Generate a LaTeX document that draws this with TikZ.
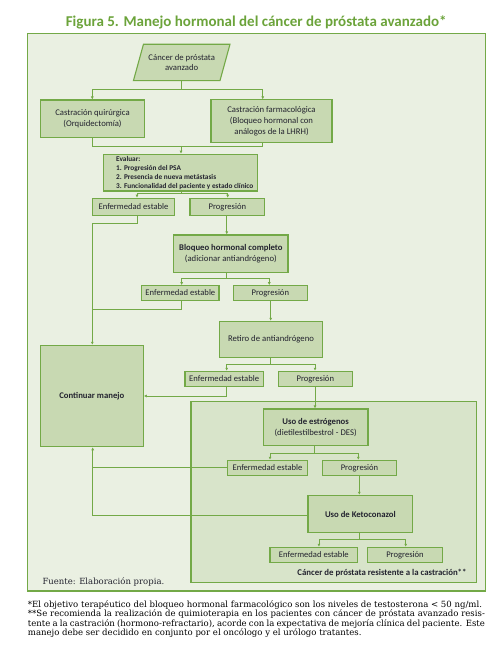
\documentclass[tikz,border=0pt]{standalone}
\usepackage{fontspec}
\setmainfont{Carlito}
\newfontfamily\footfont{DejaVu Serif}
\usetikzlibrary{arrows.meta,shapes.geometric}
\definecolor{outerfill}{HTML}{EAF0E2}
\definecolor{grborder}{HTML}{73A947}
\definecolor{boxfill}{HTML}{C8D9B2}
\definecolor{crpcfill}{HTML}{D8E4CA}
\definecolor{titlegreen}{HTML}{6BA33A}
\definecolor{txt}{HTML}{23232F}
\tikzset{
  fbox/.style={draw=grborder, fill=boxfill, line width=1.1pt, inner sep=0pt, align=center,
    text=txt, font=\fontsize{8.7}{11}\selectfont},
  sbox/.style={fbox, font=\fontsize{8.6}{9}\selectfont},
  conn/.style={draw=grborder, line width=0.9pt},
  arr/.style={conn, -{Latex[length=3pt,width=3pt]}},
}
\begin{document}
\begin{tikzpicture}[x=1pt,y=-1pt]
\useasboundingbox (0,0) rectangle (502,660);
% title
\node[text=titlegreen, font=\fontsize{15}{17}\selectfont\bfseries] (title) at (256.2,22) {Figura 5. Manejo hormonal del cáncer de próstata avanzado*};
% outer frame
\draw[draw=grborder, fill=outerfill, line width=1.2pt] (27.7,33.3) rectangle (485.7,591);
% CRPC frame
\draw[draw=grborder, fill=crpcfill, line width=1.2pt] (191,401.7) rectangle (476.7,582.7);
\node[anchor=east, text=txt, font=\fontsize{8.8}{9}\selectfont\bfseries] (crpclab) at (470,572.7) {Cáncer de próstata resistente a la castración**};
% parallelogram
\node[fbox, trapezium, trapezium left angle=61.6, trapezium right angle=118.4, trapezium stretches=true,
  minimum width=96.7, minimum height=36.4, font=\fontsize{8.7}{10}\selectfont] (par) at (181.7,62.5) {Cáncer de próstata\\avanzado};
% boxes
\node[fbox, minimum width=104.4, minimum height=37.3] (q) at (92.5,118.7) {Castración quirúrgica\\(Orquidectomía)};
\node[fbox, minimum width=121, minimum height=42.7] (f) at (271.5,121.3) {Castración farmacológica\\(Bloqueo hormonal con\\análogos de la LHRH)};
\node[fbox, minimum width=154.4, minimum height=36.7] (e) at (180.5,172.65) {};
\node[anchor=west, inner sep=0pt, align=left, text=txt, font=\fontsize{7.3}{9}\selectfont\bfseries] (etext) at (116,172.9) {Evaluar:\\1. Progresión del PSA\\2. Presencia de nueva metástasis\\3. Funcionalidad del paciente y estado clínico};
\node[sbox, minimum width=81.6, minimum height=17] (s1) at (133.5,206.8) {Enfermedad estable};
\node[sbox, minimum width=74.7, minimum height=17] (p1) at (227.35,206.8) {Progresión};
\node[fbox, minimum width=114.3, minimum height=37.3] (b) at (230.85,253.65) {\textbf{Bloqueo hormonal completo}\\(adicionar antiandrógeno)};
\node[sbox, minimum width=77.3, minimum height=14.6] (s2) at (180.35,293) {Enfermedad estable};
\node[sbox, minimum width=74, minimum height=14.6] (p2) at (270.3,293) {Progresión};
\node[fbox, minimum width=103.4, minimum height=36.4] (r) at (271,339.5) {Retiro de antiandrógeno};
\node[sbox, minimum width=78.3, minimum height=15] (s3) at (224.15,378.8) {Enfermedad estable};
\node[sbox, minimum width=74, minimum height=15] (p3) at (315.3,378.8) {Progresión};
\node[fbox, minimum width=103, minimum height=101.4] (c) at (91.8,396) {\textbf{Continuar manejo}};
\node[fbox, minimum width=104.7, minimum height=36.7] (es) at (315.65,427.35) {\textbf{Uso de estrógenos}\\(dietilestilbestrol - DES)};
\node[sbox, minimum width=80.4, minimum height=15] (s4) at (267.5,467.8) {Enfermedad estable};
\node[sbox, minimum width=74.4, minimum height=15] (p4) at (359.5,467.8) {Progresión};
\node[fbox, minimum width=104.7, minimum height=37.4] (k) at (360.35,514) {\textbf{Uso de Ketoconazol}};
\node[sbox, minimum width=87.7, minimum height=15] (s5) at (313.85,554.8) {Enfermedad estable};
\node[sbox, minimum width=74.6, minimum height=15] (p5) at (405,554.8) {Progresión};
% junction coordinates
\coordinate (j1) at (181,89.3);
\coordinate (j2) at (181,146);
\coordinate (j3) at (181,193.3);
\coordinate (v1) at (92.3,223.3);
\coordinate (j4) at (226.7,278.7);
\coordinate (v2) at (92.3,309.3);
\coordinate (j5) at (270.7,364);
\coordinate (j6) at (314.3,453.3);
\coordinate (v3) at (92.7,515.7);
\coordinate (j7) at (359.3,539.7);
% connectors
\draw[conn] (j1 |- par.south) -- (j1);
\draw[arr] (j1) -| ([xshift=-0.2pt]q.north);
\draw[arr] (j1) -| ([xshift=-8.8pt]f.north);
\draw[conn] ([xshift=-0.2pt]q.south) |- (j2);
\draw[conn] ([xshift=-8.8pt]f.south) |- (j2);
\draw[arr] (j2) -- (j2 |- e.north);
\draw[conn] (j3 |- e.south) -- (j3);
\draw[arr] (j3) -| ([xshift=3.5pt]s1.north);
\draw[arr] (j3) -| ([xshift=0.3pt]p1.north);
\draw[conn] ([xshift=3.8pt]s1.south) |- (v1);
\draw[arr] (v1) -- (v1 |- c.north);
\draw[arr] ([xshift=-0.6pt]p1.south) -- ([xshift=-0.6pt]p1.south |- b.north);
\draw[conn] (j4 |- b.south) -- (j4);
\draw[arr] (j4) -| ([xshift=1.3pt]s2.north);
\draw[arr] (j4) -| ([xshift=-1pt]p2.north);
\draw[conn] ([xshift=1.3pt]s2.south) |- (v2);
\draw[arr] ([xshift=0.4pt]p2.south) -- ([xshift=0.4pt]p2.south |- r.north);
\draw[conn] (j5 |- r.south) -- (j5);
\draw[arr] (j5) -| ([xshift=2.5pt]s3.north);
\draw[arr] (j5) -| ([xshift=-0.3pt]p3.north);
\draw[arr] ([xshift=2.5pt]s3.south) |- (c.east);
\draw[arr] ([xshift=-0.3pt]p3.south) -- ([xshift=-0.3pt]p3.south |- es.north);
\draw[conn] (j6 |- es.south) -- (j6);
\draw[arr] (j6) -| ([xshift=2.5pt]s4.north);
\draw[arr] (j6) -| ([xshift=-1.2pt]p4.north);
\draw[arr] (s4.west) -| ([xshift=0.9pt]c.south);
\draw[arr] ([xshift=-0.2pt]p4.south) -- ([xshift=-0.2pt]p4.south |- k.north);
\draw[conn] (k.west |- v3) -- (v3) -- (v3 |- s4.west);
\draw[conn] (j7 |- k.south) -- (j7);
\draw[arr] (j7) -| ([xshift=5.1pt]s5.north);
\draw[arr] (j7) -| ([xshift=0.7pt]p5.north);
% source
\node[anchor=base west, inner sep=0pt, text=txt, font=\footfont\fontsize{8.5}{10}\selectfont] (src) at (42.3,584) {Fuente: Elaboración propia.};
% footnotes
\begin{scope}[every node/.style={anchor=base west, inner sep=0pt, text=black, font=\footfont\fontsize{8.55}{9.3}\selectfont}]
\node (fn1) at (27.7,607.6) {*El objetivo terapéutico del bloqueo hormonal farmacológico son los niveles de testosterona < 50 ng/ml.};
\node (fn2) at (27.7,616.8) {\makebox[457pt][s]{**Se recomienda la realización de quimioterapia en los pacientes con cáncer de próstata avanzado resis-}};
\node (fn3) at (27.7,626.2) {\makebox[457pt][s]{tente a la castración (hormono-refractario), acorde con la expectativa de mejoría clínica del paciente. Este}};
\node (fn4) at (27.7,635.3) {manejo debe ser decidido en conjunto por el oncólogo y el urólogo tratantes.};
\end{scope}
\end{tikzpicture}
\end{document}
